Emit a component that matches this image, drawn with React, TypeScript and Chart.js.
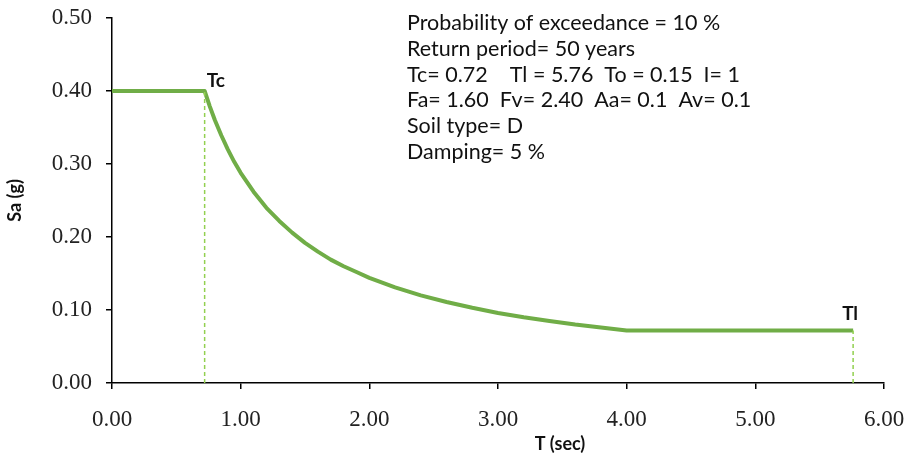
import React, { useEffect, useRef } from "react";
import { Chart, registerables } from "chart.js";
Chart.register(...registerables);

// Periods T (sec) and spectral acceleration Sa (g)
const periods = [0, 0.72, 0.76, 0.8, 0.85, 0.9, 0.95, 1.0, 1.1, 1.2, 1.3, 1.4, 1.5, 1.6, 1.7, 1.8, 1.9, 2.0, 2.2, 2.4, 2.6, 2.8, 3.0, 3.2, 3.4, 3.6, 3.8, 4.0, 5.76];
const saValues = [0.4, 0.4, 0.379, 0.36, 0.339, 0.32, 0.303, 0.288, 0.262, 0.24, 0.222, 0.206, 0.192, 0.18, 0.169, 0.16, 0.152, 0.144, 0.131, 0.12, 0.111, 0.103, 0.096, 0.09, 0.085, 0.08, 0.076, 0.072, 0.072];

const tcValue = 0.72;
const tlValue = 5.76;
const saAtTc = 0.4;
const saAtTl = 0.072;

const xTicks = [0, 1, 2, 3, 4, 5, 6];
const yTicks = [0, 0.1, 0.2, 0.3, 0.4, 0.5];

const xTitle = "T (sec)";
const yTitle = "Sa (g)";

const infoLines = [
  "Probability of exceedance = 10 %",
  "Return period= 50 years",
  "Tc= 0.72    Tl = 5.76  To = 0.15  I= 1",
  "Fa= 1.60  Fv= 2.40  Aa= 0.1  Av= 0.1",
  "Soil type= D",
  "Damping= 5 %",
];

const GREEN = "#70AD47";
const LIGHT_GREEN = "#92D050";
const SANS = "Lato, 'Open Sans', sans-serif";
const SERIF = "'Liberation Serif', 'Times New Roman', serif";

export default function App() {
  const ref = useRef<HTMLCanvasElement | null>(null);
  useEffect(() => {
    document.body.style.margin = "0";
    const canvas = ref.current!;
    const annot = {
      id: "annot",
      afterDatasetsDraw(chart: any) {
        const ctx = chart.ctx;
        const xs = chart.scales.x;
        const ys = chart.scales.y;
        ctx.save();
        ctx.fillStyle = "#111";
        ctx.textBaseline = "alphabetic";
        ctx.font = `bold 19px ${SANS}`;
        ctx.textAlign = "left";
        ctx.fillText("Tc", xs.getPixelForValue(tcValue) + 2, ys.getPixelForValue(saAtTc) - 4);
        ctx.textAlign = "center";
        ctx.fillText("Tl", xs.getPixelForValue(tlValue) - 3, ys.getPixelForValue(saAtTl) - 10);
        ctx.textAlign = "left";
        ctx.font = `21.5px ${SANS}`;
        const x0 = 407;
        let y = 30;
        for (const line of infoLines) {
          ctx.fillText(line, x0, y);
          y += 25.8;
        }
        // axis titles
        ctx.font = `bold 18px ${SANS}`;
        ctx.textAlign = "center";
        ctx.textBaseline = "middle";
        ctx.fillText(xTitle, 560, 444);
        ctx.save();
        ctx.translate(15, (ys.top + ys.bottom) / 2);
        ctx.rotate(-Math.PI / 2);
        ctx.fillText(yTitle, 0, 0);
        ctx.restore();
        ctx.restore();
      },
    };
    const chart = new Chart(canvas, {
      type: "scatter",
      data: {
        datasets: [
          {
            data: [
              { x: tcValue, y: 0 },
              { x: tcValue, y: saAtTc },
            ],
            showLine: true,
            borderColor: LIGHT_GREEN,
            borderWidth: 1.5,
            borderDash: [4, 3],
            pointRadius: 0,
          },
          {
            data: [
              { x: tlValue, y: 0 },
              { x: tlValue, y: saAtTl },
            ],
            showLine: true,
            borderColor: LIGHT_GREEN,
            borderWidth: 1.5,
            borderDash: [4, 3],
            pointRadius: 0,
          },
          {
            data: periods.map((t, i) => ({ x: t, y: saValues[i] })),
            showLine: true,
            borderColor: GREEN,
            borderWidth: 4,
            borderJoinStyle: "round",
            pointRadius: 0,
            tension: 0,
          },
        ],
      },
      options: {
        animation: false,
        responsive: false,
        maintainAspectRatio: false,
        layout: { padding: { top: 18, right: 23, left: 0, bottom: 0 } },
        plugins: { legend: { display: false }, tooltip: { enabled: false } },
        scales: {
          x: {
            type: "linear",
            min: 0,
            max: 6,
            afterBuildTicks: (s: any) => {
              s.ticks = xTicks.map((v) => ({ value: v }));
            },
            afterFit: (s: any) => {
              s.height = 73;
              s.paddingLeft = 0;
              s.paddingRight = 0;
            },
            ticks: {
              color: "#222",
              font: { family: SERIF, size: 23 },
              padding: 17,
              callback: (v: any) => Number(v).toFixed(2),
              maxRotation: 0,
            },
            grid: { drawOnChartArea: false, drawTicks: true, tickLength: 6, color: "#000", lineWidth: 1.5 },
            border: { display: true, color: "#000", width: 1.5 },
          },
          y: {
            type: "linear",
            min: 0,
            max: 0.5,
            afterBuildTicks: (s: any) => {
              s.ticks = yTicks.map((v) => ({ value: v }));
            },
            afterFit: (s: any) => {
              s.width = 112;
              s.paddingTop = 0;
              s.paddingBottom = 0;
            },
            ticks: {
              color: "#222",
              font: { family: SERIF, size: 23 },
              padding: 14,
              callback: (v: any) => Number(v).toFixed(2),
            },
            grid: { drawOnChartArea: false, drawTicks: true, tickLength: 6, color: "#000", lineWidth: 1.5 },
            border: { display: true, color: "#000", width: 1.5 },
          },
        },
      },
      plugins: [annot],
    } as any);
    return () => chart.destroy();
  }, []);
  return (
    <div style={{ width: 907, height: 456 }}>
      <canvas ref={ref} width={907} height={456} style={{ display: "block", width: 907, height: 456 }} />
    </div>
  );
}
